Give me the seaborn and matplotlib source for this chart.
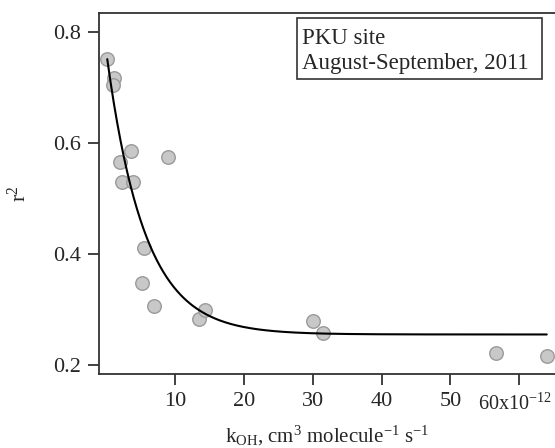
import numpy as np
import pandas as pd
import matplotlib
matplotlib.use("Agg")
import matplotlib.pyplot as plt
import matplotlib.transforms as mtransforms
import seaborn as sns
from matplotlib.patches import Rectangle

# k_OH (x 1e-12 cm3 molecule-1 s-1) vs r2
k_oh = [0.1, 1.1, 0.9, 3.5, 2.0, 9.0, 2.2, 3.8, 5.5, 5.2, 6.9, 13.5, 14.3, 30.0, 31.4, 56.6, 64.1]
r2 = [0.751, 0.717, 0.705, 0.586, 0.566, 0.574, 0.530, 0.530, 0.410, 0.348, 0.307,
      0.282, 0.299, 0.279, 0.258, 0.221, 0.216]

# exponential fit y = y0 + A*exp(-x/tau), parameters
fit_y0 = 0.255
fit_A = 0.505
fit_tau = 5.5
fit_range = (0.1, 64.0)

xticks = [10, 20, 30, 40, 50, 60]
xticklabels = ["10", "20", "30", "40", "50", "60x10$^{-12}$"]
yticks = [0.2, 0.4, 0.6, 0.8]

sns.set_theme(style="ticks")
plt.rcParams["font.family"] = ["Liberation Serif", "DejaVu Serif"]
plt.rcParams["mathtext.fontset"] = "custom"
plt.rcParams["mathtext.rm"] = "Liberation Serif"
plt.rcParams["mathtext.it"] = "Liberation Serif:italic"

fig = plt.figure(figsize=(5.55, 4.48), dpi=100)
ax = fig.add_axes([99 / 555, 74 / 448, 1 - 99 / 555, 361 / 448])

df = pd.DataFrame({"k": k_oh, "r2": r2})
sns.scatterplot(data=df, x="k", y="r2", ax=ax, s=95, color="#c8c8c8",
                edgecolor="#9a9a9a", linewidth=1.0, zorder=2, clip_on=False)

xs = np.linspace(fit_range[0], fit_range[1], 400)
fit_df = pd.DataFrame({"k": xs, "r2": fit_y0 + fit_A * np.exp(-xs / fit_tau)})
sns.lineplot(data=fit_df, x="k", y="r2", ax=ax, color="black", linewidth=1.5, zorder=3)

ax.set_xlim(-1.1, 65.2)
ax.set_ylim(0.1838, 0.834)
ax.set_xticks(xticks)
ax.set_xticklabels(xticklabels)
ax.set_yticks(yticks)
ax.set_yticklabels([f"{v:.1f}" for v in yticks])

for side in ["left", "bottom", "top"]:
    ax.spines[side].set_color("#333333")
    ax.spines[side].set_linewidth(1.3)
ax.spines["right"].set_visible(False)
ax.tick_params(direction="out", length=8, width=1.3, color="#333333",
               labelsize=16, pad=5)

# the last label carries the 1e-12 multiplier; keep it inside the picture
last = ax.get_xticklabels()[-1]
last.set_fontsize(14.5)
last.set_transform(last.get_transform() +
                   mtransforms.ScaledTranslation(-4 / 100, -2 / 100, fig.dpi_scale_trans))

ax.set_xlabel(r"k$_{\mathrm{OH}}$, cm$^{3}$ molecule$^{-1}$ s$^{-1}$", fontsize=15, labelpad=6)
ax.set_ylabel(r"r$^{2}$", fontsize=16, labelpad=16)

# annotation box
fig.add_artist(Rectangle((297 / 555, 1 - 79 / 448), 245 / 555, 61 / 448,
                         transform=fig.transFigure, fill=True, facecolor="white",
                         edgecolor="#333333", linewidth=1.2, zorder=5))
fig.text(302 / 555, 1 - 44 / 448, "PKU site", fontsize=16.5, va="baseline", zorder=6)
fig.text(302 / 555, 1 - 69 / 448, "August-September, 2011", fontsize=16.5, va="baseline", zorder=6)

plt.savefig("out.png", dpi=100)
